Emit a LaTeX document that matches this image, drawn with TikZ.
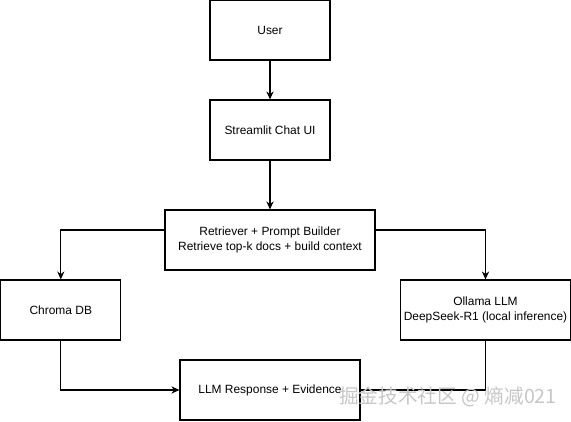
\documentclass[tikz,border=0pt]{standalone}
\usepackage{fontspec}
\setmainfont{Liberation Sans}
\newfontfamily\cjkfont{Noto Sans CJK SC}
\usetikzlibrary{arrows.meta}
\tikzset{>={Stealth[width=1.8mm,length=2mm]}}
\tikzset{block/.style={draw, line width=0.8pt, align=center, inner sep=0pt,
    minimum height=1.5cm, font=\fontsize{8.5}{10.7}\selectfont}}

\begin{document}
\begin{tikzpicture}

  \useasboundingbox (0,0) rectangle (14.275,-10.525);

  \node[block, minimum width=3cm] (user) at (6.75,-0.75) {User};
  \node[block, minimum width=3cm] (chat) at (6.75,-3.25) {Streamlit Chat UI};
  \node[block, minimum width=5.25cm] (retr) at (6.75,-6) {Retriever + Prompt Builder\\Retrieve top-k docs + build context};
  \node[block, minimum width=3cm] (chroma) at (1.52,-7.75) {Chroma DB};
  \node[block, minimum width=4.25cm] (ollama) at (12.1375,-7.75) {Ollama LLM\\DeepSeek-R1 (local inference)};
  \node[block, minimum width=4.5cm] (resp) at (6.75,-9.75) {LLM Response + Evidence};

  \coordinate (retrL) at ([yshift=0.25cm]retr.west);
  \coordinate (retrR) at ([yshift=0.25cm]retr.east);

  \draw[line width=0.8pt,->] (user) -- (chat);
  \draw[line width=0.8pt,->] (chat) -- (retr);
  \draw[line width=0.8pt,->] (retrL) -| (chroma.north);
  \draw[line width=0.8pt,->] (retrR) -| (ollama.north);
  \draw[line width=0.8pt,->] (chroma.south) |- (resp.west);
  \draw[line width=0.8pt] (ollama.south) |- (resp.east);

  \node[text=gray!45, font=\cjkfont\fontsize{14}{14}\selectfont, inner sep=0pt] (mark) at (11.2,-9.92) {掘金技术社区 @ 熵减021};

\end{tikzpicture}
\end{document}
